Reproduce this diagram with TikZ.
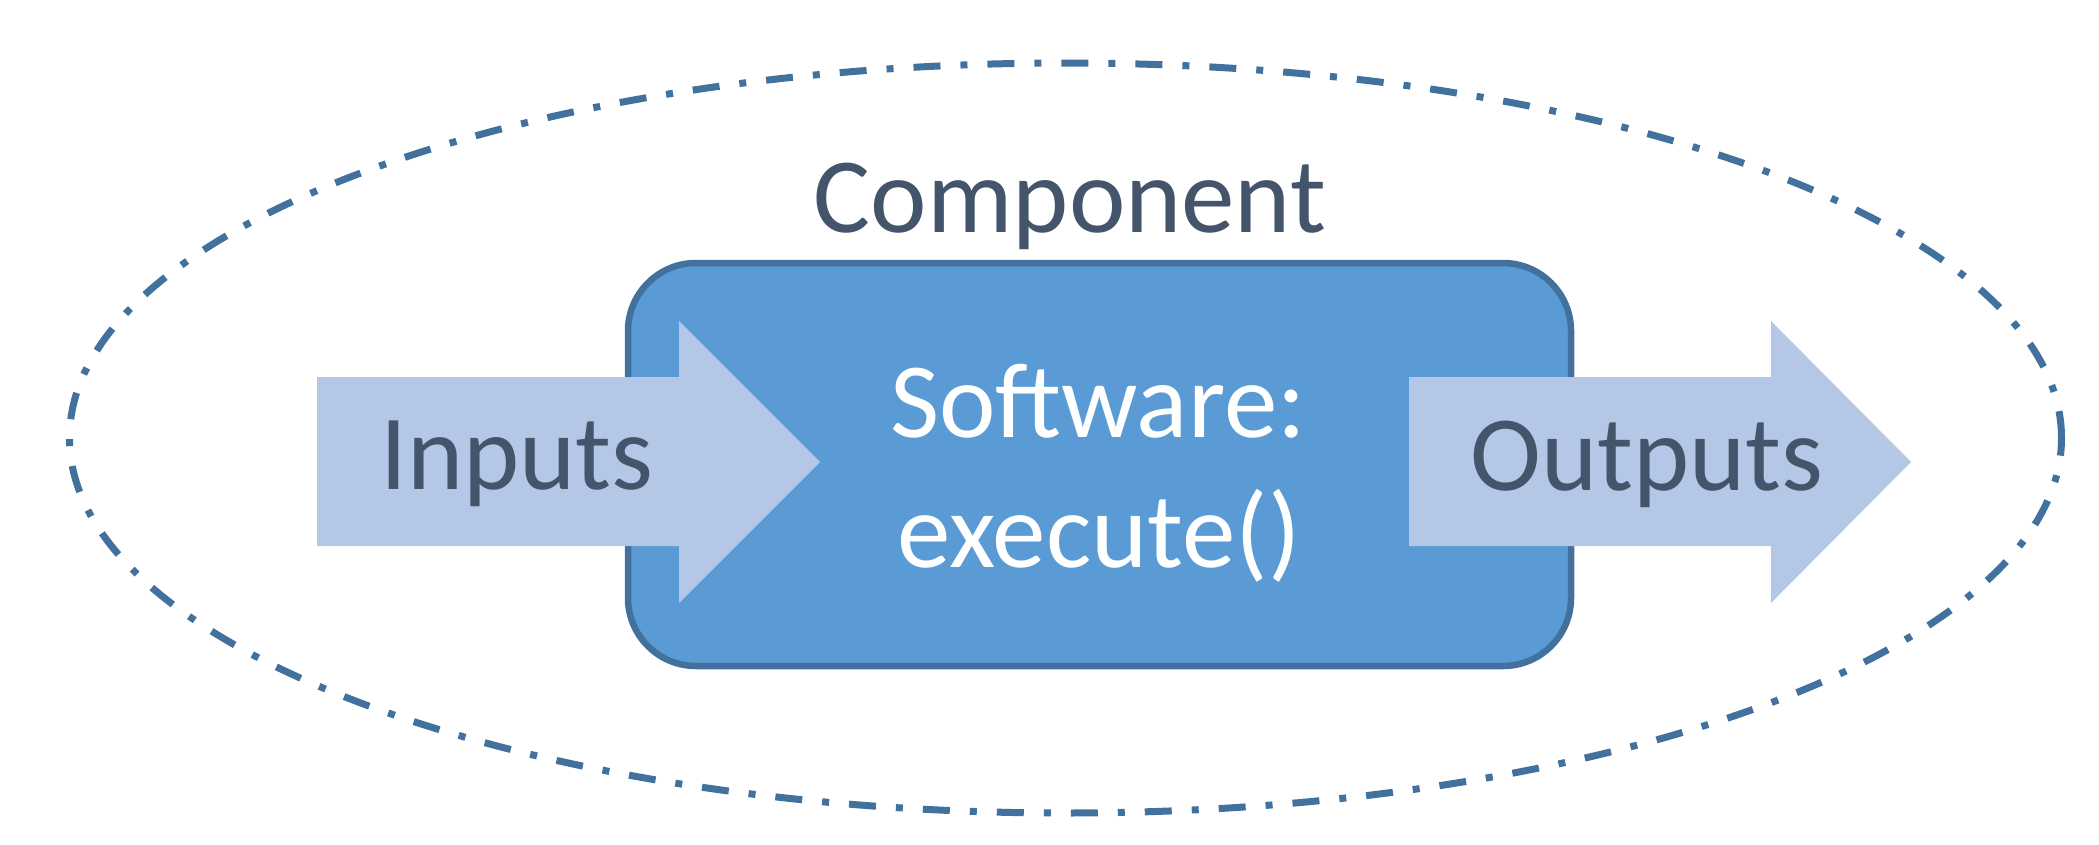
\documentclass[tikz,border=0pt]{standalone}
\usepackage{fontspec}
\setmainfont{Carlito}
\usetikzlibrary{shapes.geometric}
\definecolor{edgeblue}{HTML}{41719C}
\definecolor{boxblue}{HTML}{5B9BD5}
\definecolor{arrowblue}{HTML}{B4C7E7}
\definecolor{textdark}{HTML}{44546A}
\tikzset{
  bigtext/.style={font=\fontsize{107}{130}\selectfont, inner sep=0pt, outer sep=0pt, anchor=base},
  boundary/.style={ellipse, draw=edgeblue, line width=7pt, dash pattern=on 27pt off 20pt on 7pt off 20pt, inner sep=0pt, outer sep=0pt},
  swbox/.style={draw=edgeblue, fill=boxblue, line width=6.5pt, rounded corners=68pt, inner sep=0pt, outer sep=0pt},
  flowarrow/.style={fill=arrowblue}
}
\begin{document}
\begin{tikzpicture}[x=1pt,y=-1pt]
\useasboundingbox (0,0) rectangle (2099,844);
\node[boundary, minimum width=1992pt, minimum height=750pt] (comp) at (1065.5,438) {};
\node[swbox, minimum width=943pt, minimum height=403pt] (box) at (1099.5,464.5) {};
\fill[flowarrow] (317,377) -- (679,377) -- (679,321) -- (820,462) -- (679,603) -- (679,546) -- (317,546) -- cycle;
\fill[flowarrow] (1409,377) -- (1771,377) -- (1771,321) -- (1911,462) -- (1771,603) -- (1771,546) -- (1409,546) -- cycle;
\node[bigtext, text=textdark] (complabel) at (1070,232) {Component};
\node[bigtext, text=textdark] (inputs) at (517,489) {Inputs};
\node[bigtext, text=textdark] (outputs) at (1647,490) {Outputs};
\node[bigtext, text=white] (sw1) at (1098,437) {Software:};
\node[bigtext, text=white] (sw2) at (1099,567) {execute()};
\end{tikzpicture}
\end{document}
